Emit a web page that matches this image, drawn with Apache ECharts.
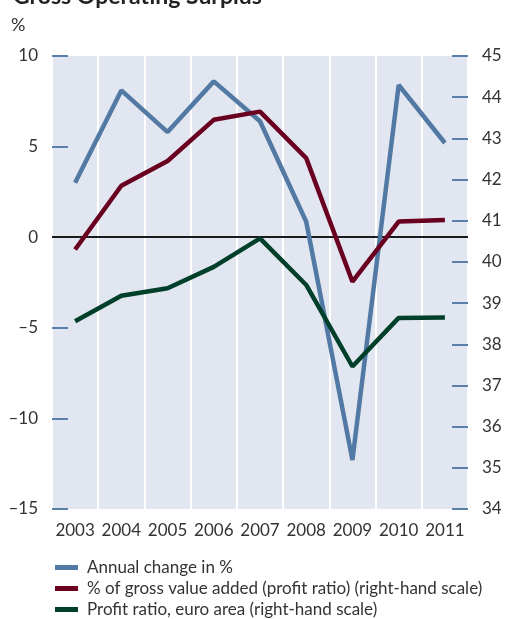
<!DOCTYPE html>
<html>
<head>
<meta charset="utf-8">
<script src="https://cdn.jsdelivr.net/npm/echarts@6/dist/echarts.min.js"></script>
<style>
  html, body { margin: 0; padding: 0; background: #fff; }
  #chart { width: 505px; height: 619px; }
</style>
</head>
<body>
<div id="chart"></div>
<script>
const years = ["2003", "2004", "2005", "2006", "2007", "2008", "2009", "2010", "2011"];
// annual change in % (left scale)
const annualChange = [3.0, 8.1, 5.8, 8.6, 6.4, 0.85, -12.3, 8.4, 5.2];
// profit ratio (right scale)
const profitRatio = [40.3, 41.85, 42.45, 43.45, 43.65, 42.52, 39.52, 40.98, 41.02];
// profit ratio, euro area (right scale)
const profitEuro = [38.56, 39.18, 39.36, 39.88, 40.57, 39.44, 37.46, 38.64, 38.65];

const leftTicks = { min: -15, max: 10, interval: 5 };
const rightTicks = { min: 34, max: 45, interval: 1 };

const FONT = "Lato, 'Open Sans', sans-serif";
const tickStyle = { show: true, inside: true, length: 16, lineStyle: { color: "#5b7fa8", width: 2 } };

const chart = echarts.init(document.getElementById("chart"));

const options = {
  animation: false,
  textStyle: { fontFamily: FONT },
  graphic: [
    {
      type: "text",
      left: 13,
      top: -15,
      style: { text: "Gross Operating Surplus", font: "bold 23px " + FONT, fill: "#222" },
    },
    {
      type: "text",
      left: 11,
      top: 16,
      style: { text: "%", font: "18px " + FONT, fill: "#333" },
    },
  ],
  grid: {
    left: 52,
    right: 37,
    top: 56,
    height: 453,
    show: true,
    backgroundColor: "#e1e6f0",
    borderWidth: 0,
  },
  legend: {
    orient: "vertical",
    left: 50,
    top: 554,
    height: 70,
    icon: "rect",
    itemWidth: 23,
    itemHeight: 5,
    itemGap: 4,
    textStyle: { color: "#333", fontSize: 17, fontFamily: FONT, padding: [0, 0, 0, 4] },
    data: ["Annual change in %", "% of gross value added (profit ratio) (right-hand scale)", "Profit ratio, euro area (right-hand scale)"],
  },
  xAxis: {
    type: "category",
    data: years,
    boundaryGap: true,
    axisLine: { show: false },
    axisTick: { show: false },
    axisLabel: { color: "#333", fontSize: 17, margin: 13, interval: 0 },
    splitLine: { show: true, interval: 0, lineStyle: { color: "#fff", width: 2 } },
  },
  yAxis: [
    {
      type: "value",
      min: leftTicks.min,
      max: leftTicks.max,
      interval: leftTicks.interval,
      axisLine: { show: false },
      axisTick: tickStyle,
      splitLine: { show: false },
      axisLabel: {
        color: "#333",
        fontSize: 17,
        margin: 14,
        formatter: (v) => (v < 0 ? "\u2013" + Math.abs(v) : String(v)),
      },
    },
    {
      type: "value",
      position: "right",
      min: rightTicks.min,
      max: rightTicks.max,
      interval: rightTicks.interval,
      axisLine: { show: false },
      axisTick: tickStyle,
      splitLine: { show: false },
      axisLabel: { color: "#333", fontSize: 17, margin: 14 },
    },
  ],
  series: [
    {
      name: "Annual change in %",
      type: "line",
      yAxisIndex: 0,
      data: annualChange,
      symbol: "none",
      z: 3,
      lineStyle: { color: "#5279a3", width: 4.5 },
      itemStyle: { color: "#5279a3" },
      markLine: {
        silent: true,
        symbol: "none",
        label: { show: false },
        lineStyle: { color: "#1a1a1a", width: 2, type: "solid" },
        data: [{ yAxis: 0 }],
        z: 1,
      },
    },
    {
      name: "% of gross value added (profit ratio) (right-hand scale)",
      type: "line",
      yAxisIndex: 1,
      data: profitRatio,
      symbol: "none",
      z: 4,
      lineStyle: { color: "#6a0020", width: 4.5 },
      itemStyle: { color: "#6a0020" },
    },
    {
      name: "Profit ratio, euro area (right-hand scale)",
      type: "line",
      yAxisIndex: 1,
      data: profitEuro,
      symbol: "none",
      z: 4,
      lineStyle: { color: "#00402a", width: 4.5 },
      itemStyle: { color: "#00402a" },
    },
  ],
};

chart.setOption(options);

window.addEventListener("resize", () => {
  chart.resize();
});
</script>
</body>
</html>
